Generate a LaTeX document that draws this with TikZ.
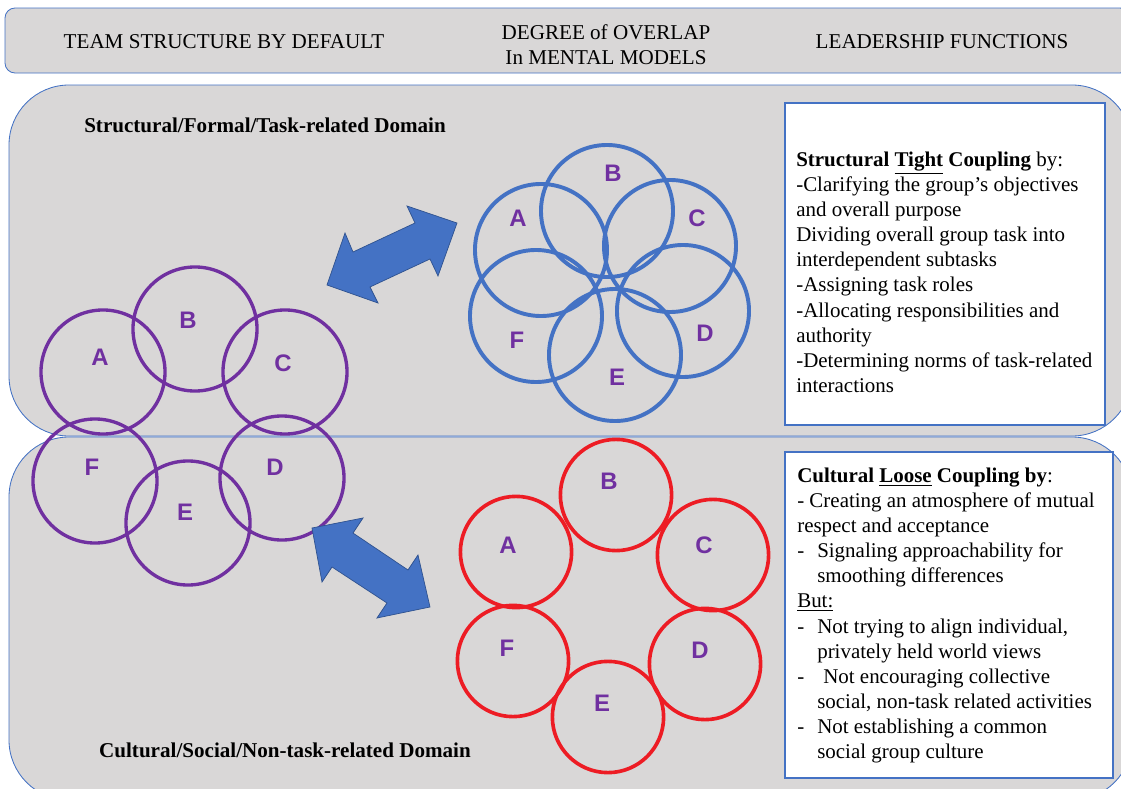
\documentclass[tikz,border=0pt]{standalone}
\usepackage{fontspec}
\setmainfont{Liberation Serif}
\newfontfamily\ringfont{Liberation Sans}
\usepackage{tikz}

\definecolor{panelgray}{RGB}{217,215,215}
\definecolor{edgeblue}{RGB}{68,114,196}
\definecolor{ringpurple}{RGB}{112,48,160}
\definecolor{ringred}{RGB}{237,28,36}
\definecolor{arrowedge}{RGB}{47,82,143}

\newcommand{\itemdash}{\makebox[0.5cm][l]{-}}

\begin{document}
\begin{tikzpicture}[x=0.025cm, y=-0.025cm,
  panel/.style={draw=edgeblue, line width=0.6pt, fill=panelgray, rounded corners=1.5cm},
  headtext/.style={align=center, font=\fontsize{15}{17.8}\selectfont},
  domaintext/.style={font=\fontsize{15}{18}\selectfont\bfseries},
  textbox/.style={draw=edgeblue, line width=0.8pt, fill=white},
  boxtext/.style={anchor=north west, inner sep=0pt, align=left, font=\fontsize{14.9}{17.8}\selectfont},
  ringp/.style={circle, draw=ringpurple, line width=2.4pt, minimum size=3.1cm},
  ringb/.style={circle, draw=edgeblue, line width=2.8pt, minimum size=3.3cm},
  ringr/.style={circle, draw=ringred, line width=2.6pt, minimum size=2.78cm},
  ringletter/.style={text=ringpurple, font=\ringfont\bfseries\fontsize{17}{20}\selectfont},
  block/.style={fill=edgeblue, draw=arrowedge, line width=0.5pt}]

\fill[white] (0, 0) rectangle (1121, 789);
\useasboundingbox (0, 0) rectangle (1121, 789);

% header and the two domains
\draw[panel, rounded corners=0.25cm] (5, 8) rectangle (1130, 73);
\draw[panel] (9, 85) rectangle (1132, 436);
\draw[panel] (9, 437) rectangle (1132, 800);

\draw (224, 42) node [headtext] (hteam) {TEAM STRUCTURE BY DEFAULT};
\draw (606, 45) node [headtext] (hdegree) {DEGREE of OVERLAP\\In MENTAL MODELS};
\draw (942, 42) node [headtext] (hlead) {LEADERSHIP FUNCTIONS};

\draw (265, 125) node [domaintext] (dstruct) {Structural/Formal/Task-related Domain};
\draw (285, 750) node [domaintext] (dcult) {Cultural/Social/Non-task-related Domain};

% leadership boxes
\draw (945, 264) node [textbox, minimum width=8cm, minimum height=8.05cm] (tightbox) {};
\draw (796, 152) node [boxtext] (tighttext) {\textbf{Structural \underline{Tight} Coupling} by:\\
-Clarifying the group's objectives\\
and overall purpose\\
Dividing overall group task into\\
interdependent subtasks\\
-Assigning task roles\\
-Allocating responsibilities and\\
authority\\
-Determining norms of task-related\\
interactions};

\draw (949, 615) node [textbox, minimum width=8.2cm, minimum height=8.15cm] (loosebox) {};
\draw (797, 468) node [boxtext] (loosetext) {\textbf{Cultural \underline{Loose} Coupling by}:\\
- Creating an atmosphere of mutual\\
respect and acceptance\\
\itemdash Signaling approachability for\\
\hspace*{0.5cm}smoothing differences\\
\underline{But:}\\
\itemdash Not trying to align individual,\\
\hspace*{0.5cm}privately held world views\\
\itemdash\hspace{0.15cm}Not encouraging collective\\
\hspace*{0.5cm}social, non-task related activities\\
\itemdash Not establishing a common\\
\hspace*{0.5cm}social group culture};

% default team structure
\draw (103, 372) node [ringp] (pA) {};
\draw (195, 329) node [ringp] (pB) {};
\draw (285, 372) node [ringp] (pC) {};
\draw (282, 478) node [ringp] (pD) {};
\draw (188, 523) node [ringp] (pE) {};
\draw (95, 481) node [ringp] (pF) {};
\draw (100, 357) node [ringletter] (pAl) {A};
\draw (188, 320) node [ringletter] (pBl) {B};
\draw (283, 363) node [ringletter] (pCl) {C};
\draw (275, 467) node [ringletter] (pDl) {D};
\draw (185, 512) node [ringletter] (pEl) {E};
\draw (92, 467) node [ringletter] (pFl) {F};

% tight overlap
\draw (541, 250) node [ringb] (bA) {};
\draw (607, 211) node [ringb] (bB) {};
\draw (670, 246) node [ringb] (bC) {};
\draw (683, 311) node [ringb] (bD) {};
\draw (615, 355) node [ringb] (bE) {};
\draw (536, 316) node [ringb] (bF) {};
\draw (518, 218) node [ringletter] (bAl) {A};
\draw (613, 173) node [ringletter] (bBl) {B};
\draw (697, 218) node [ringletter] (bCl) {C};
\draw (705, 333) node [ringletter] (bDl) {D};
\draw (617, 377) node [ringletter] (bEl) {E};
\draw (517, 340) node [ringletter] (bFl) {F};

% loose overlap
\draw (516, 552) node [ringr] (rA) {};
\draw (616, 495) node [ringr] (rB) {};
\draw (713, 555) node [ringr] (rC) {};
\draw (705, 664) node [ringr] (rD) {};
\draw (608, 717) node [ringr] (rE) {};
\draw (513, 661) node [ringr] (rF) {};
\draw (508, 545) node [ringletter] (rAl) {A};
\draw (609, 481) node [ringletter] (rBl) {B};
\draw (704, 545) node [ringletter] (rCl) {C};
\draw (700, 650) node [ringletter] (rDl) {D};
\draw (602, 703) node [ringletter] (rEl) {E};
\draw (507, 648) node [ringletter] (rFl) {F};

% block arrows
\draw[block] (327, 285) -- (345, 233) -- (353, 252) -- (415, 223) -- (407, 206)
  -- (457, 223) -- (438, 276) -- (430, 259) -- (370, 287) -- (378, 303) -- cycle;
\draw[block] (312, 528) -- (363, 518) -- (353, 533) -- (408, 570) -- (418, 555)
  -- (430, 607) -- (377, 618) -- (387, 603) -- (332, 567) -- (322, 582) -- cycle;
\end{tikzpicture}
\end{document}
